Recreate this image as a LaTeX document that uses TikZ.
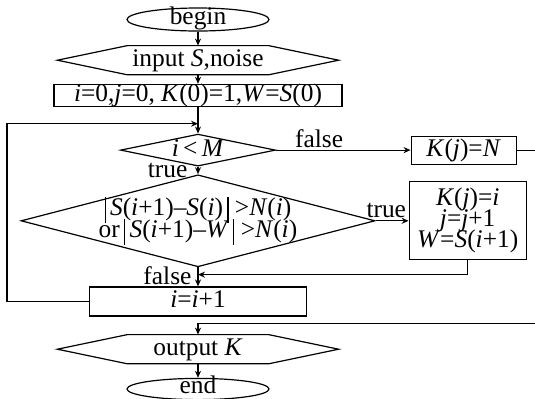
\documentclass[tikz,border=0pt]{standalone}
\usepackage{fontspec}
\setmainfont{Liberation Serif}
\usetikzlibrary{arrows.meta,positioning,calc,shapes.geometric}
\newcommand{\vi}[1]{\textit{#1}}
\newcommand{\absbar}{\rule[-3.5pt]{0.6pt}{13pt}}
% hexagon outline round a named io node
\newcommand{\hexframe}[1]{\draw (#1.west) -- ([xshift=35pt]#1.north west) -- ([xshift=-35pt]#1.north east) -- (#1.east) -- ([xshift=-35pt]#1.south east) -- ([xshift=35pt]#1.south west) -- cycle;}

\begin{document}
\begin{tikzpicture}[
  every node/.style={align=center, font=\fontsize{12.7}{14}\selectfont},
  line width=0.6pt,
  arr/.style={-{Stealth[length=3.5pt,width=3pt]}},
  terminal/.style={draw, ellipse, inner sep=0pt, text height=6pt, text depth=1.5pt, minimum width=71pt},
  oneline/.style={text height=8.5pt, text depth=2.5pt},
  io/.style={rectangle, oneline, inner sep=0pt, minimum width=140pt, minimum height=14pt},
  process/.style={draw, rectangle, inner sep=0pt},
  decision/.style={draw, diamond, inner sep=0pt},
  lbl/.style={inner sep=1pt}
]
\useasboundingbox (0,0) rectangle (267.5pt,-199pt);
\node[terminal, minimum height=11.5pt] (begin) at (99pt,-9.75pt) {begin};
\node[io, below=7pt of begin] (input) {input \vi{S},noise};
\node[process, oneline, below=4.5pt of input, minimum width=144pt, minimum height=11pt] (init) {\vi{i}=0,\vi{j}=0, \vi{K}(0)=1,\vi{W}=\vi{S}(0)};
\node[decision, below=13.25pt of init, aspect=5.34, text height=6pt, text depth=0pt, minimum width=77.5pt, minimum height=16pt] (cmpM) {\vi{i}\,<\,\vi{M}};
\node[decision, below=3.75pt of cmpM, aspect=3.93, inner xsep=-20pt, inner ysep=-8pt, minimum width=177pt, minimum height=46pt] (noise) {\absbar\,\vi{S}(\vi{i}+1)–\vi{S}(\vi{i})\,\absbar\ >\vi{N}(\vi{i})\\[-3pt]or\,\absbar\,\vi{S}(\vi{i}+1)–\vi{W}\,\absbar\ >\vi{N}(\vi{i})};
\node[process, oneline, right=67.25pt of cmpM, minimum width=52.5pt, minimum height=14pt] (setN) {\vi{K}(\vi{j})=\vi{N}};
\node[process, right=16.5pt of noise, minimum width=58.5pt, minimum height=39pt] (setK) {\vi{K}(\vi{j})=\vi{i}\\[-3.5pt]\vi{j}=\vi{j}+1\\[-3.5pt]\vi{W}=\vi{S}(\vi{i}+1)};
\node[process, oneline, below=9.5pt of noise, minimum width=108.5pt, minimum height=14.5pt] (inc) {\vi{i}=\vi{i}+1};
\node[io, below=9pt of inc] (output) {output \vi{K}};
\node[terminal, below=7pt of output, minimum height=10.5pt] (end) {end};
\hexframe{input}
\hexframe{output}
% junctions on the main line
\coordinate (loopin) at ($(init.south)!0.63!(cmpM.north)$);
\coordinate (outin) at ($(inc.south)!0.4!(output.north)$);
\coordinate (backin) at ($(noise.south)!0.38!(inc.north)$);
\draw[arr] (begin) -- (input);
\draw[arr] (input) -- (init);
\draw[arr] (init) -- (cmpM);
\draw[arr] (cmpM) -- node[lbl, above, pos=0.32] {false} (setN);
\draw[arr] (cmpM) -- node[lbl, left=4pt] {true} (noise);
\draw[arr] (noise) -- node[lbl, anchor=south east, pos=1] {true} (setK);
\draw[arr] (noise) -- node[lbl, left=2pt, pos=0.45] {false} (inc);
\draw[arr] (setK.south) |- (backin);
\draw[arr] (inc.west) -- ++(-41pt,0) |- (loopin);
\draw[arr] (setN.east) -- ++(30pt,0) |- (outin) -- (output);
\draw[arr] (output) -- (end);
\end{tikzpicture}
\end{document}
